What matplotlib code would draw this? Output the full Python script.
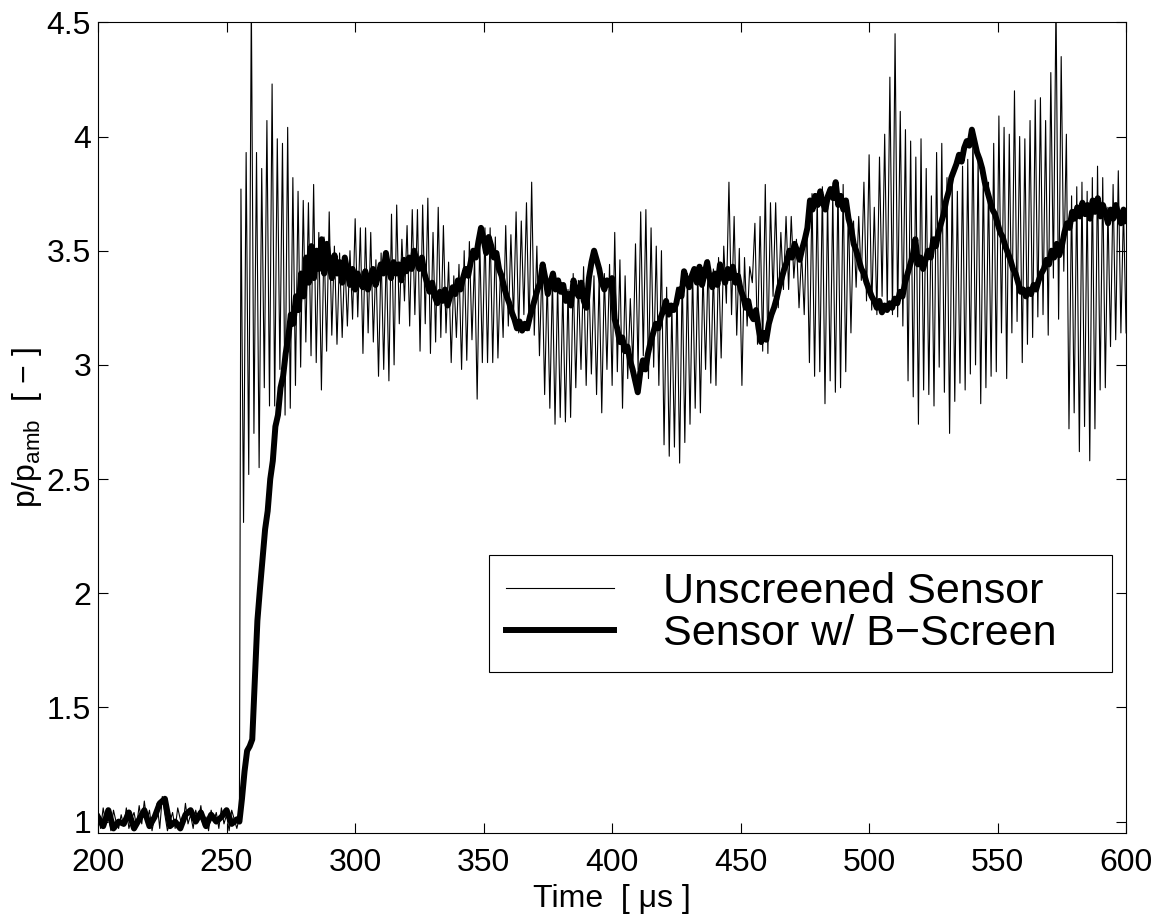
import numpy as np
import matplotlib
matplotlib.use('Agg')
import matplotlib.pyplot as plt

plt.rcParams['font.family'] = ['Liberation Sans', 'DejaVu Sans']
plt.rcParams['mathtext.fontset'] = 'custom'
plt.rcParams['mathtext.rm'] = 'Liberation Sans'
plt.rcParams['mathtext.it'] = 'Liberation Sans:italic'

# unscreened sensor, 1 us samples before the shock arrives
bare_pre = [1.04, 0.97, 1.06, 0.99, 1.02, 0.96, 1.05, 1.00, 0.97, 1.03,
            0.98, 1.06, 0.97, 1.01, 1.04, 0.98, 1.07, 0.99, 1.09, 1.00,
            1.05, 0.96, 1.02, 1.08, 0.97, 1.11, 1.03, 0.96, 1.00, 1.04,
            0.97, 1.06, 1.01, 0.98, 1.08, 0.99, 1.03, 0.97, 1.05, 1.00,
            1.07, 0.98, 1.02, 0.96, 1.05, 1.00, 1.04, 0.97, 1.06, 0.99,
            1.03, 0.96, 1.05, 1.01, 0.97, 1.02]

# after the shock the signal rings: alternating highs and lows, read per stretch
peaks_b = [3.77, 3.93, 4.60, 3.93, 3.86, 4.07, 4.23, 3.99, 3.97, 4.04,
           3.82, 3.76, 3.72, 3.71, 3.79, 3.58, 3.56, 3.67, 3.52, 3.49,
           3.47, 3.50, 3.64, 3.60, 3.60, 3.58, 3.46, 3.49, 3.50, 3.66,
           3.70, 3.55, 3.61]
lows_b = [2.31, 2.52, 2.70, 2.55, 2.90, 2.82, 2.82, 2.98, 2.78, 2.81,
          2.91, 2.99, 3.10, 3.04, 3.01, 2.89, 3.06, 3.13, 3.09, 3.12,
          3.17, 3.20, 3.21, 3.05, 3.14, 3.10, 2.95, 2.98, 2.93, 3.00,
          3.18, 3.28]
peaks_c = [3.68, 3.68, 3.70, 3.73, 3.58, 3.69, 3.61, 3.45, 3.39, 3.44,
           3.50, 3.54, 3.47, 3.55, 3.60, 3.60, 3.56, 3.43, 3.61, 3.57,
           3.67, 3.63, 3.71, 3.80, 3.52, 3.44, 3.38, 3.38, 3.36, 3.34,
           3.33, 3.40, 3.37]
lows_c = [3.17, 3.22, 3.06, 3.18, 3.05, 3.10, 3.12, 3.14, 3.01, 3.12,
          2.98, 3.02, 3.11, 2.85, 3.01, 3.01, 3.01, 3.03, 3.12, 3.17,
          3.20, 3.14, 3.22, 3.15, 3.13, 3.04, 2.87, 2.81, 2.74, 2.77,
          2.75, 2.77, 2.90]
peaks_d = [3.43, 3.40, 3.39, 3.39, 3.40, 3.44, 3.58, 3.46, 3.39, 3.29,
           3.53, 3.67, 3.68, 3.60, 3.52, 3.50, 3.34, 3.26, 3.34, 3.40,
           3.40, 3.41, 3.43, 3.42, 3.46, 3.42, 3.47, 3.52, 3.80, 3.65,
           3.51, 3.47, 3.43]
lows_d = [2.98, 2.91, 2.96, 2.87, 2.79, 2.98, 2.91, 2.97, 2.81, 2.94,
          2.99, 2.98, 3.04, 2.94, 2.99, 2.91, 2.65, 2.60, 2.64, 2.57,
          2.66, 2.74, 2.81, 2.79, 2.98, 2.92, 2.91, 3.03, 3.27, 3.22,
          3.13, 2.91, 3.17]
peaks_e = [3.62, 3.65, 3.79, 3.71, 3.71, 3.58, 3.65, 3.65, 3.55, 3.49,
           3.63, 3.75, 3.75, 3.78, 3.73, 3.75, 3.79, 3.79, 3.70, 3.63,
           3.65, 3.80, 3.92, 3.69, 3.91, 4.01, 4.26, 4.45, 4.11, 4.03,
           3.98, 3.91]
lows_e = [3.36, 3.09, 3.06, 3.05, 3.30, 3.25, 3.33, 3.33, 3.38, 3.25,
          3.22, 3.01, 2.95, 2.97, 2.83, 2.93, 2.88, 2.90, 2.97, 3.14,
          3.34, 3.37, 3.28, 3.24, 3.22, 3.30, 3.25, 3.22, 3.21, 3.17,
          2.93, 2.86]
peaks_f = [3.99, 3.86, 3.74, 3.93, 3.97, 3.82, 3.81, 3.76, 3.87, 3.90,
           4.03, 3.91, 3.84, 3.80, 3.97, 4.09, 4.04, 4.01, 4.20, 4.00,
           3.99, 4.07, 4.16, 4.17, 4.07, 4.28, 4.60, 4.35, 4.01, 3.74,
           3.78, 3.80, 3.76, 3.82, 3.87, 3.82, 3.69, 3.79, 3.85, 3.69]
lows_f = [2.74, 2.89, 2.87, 2.82, 2.99, 2.88, 2.70, 2.84, 2.92, 2.89,
          2.96, 3.00, 2.83, 2.90, 2.95, 2.97, 3.14, 2.94, 3.14, 3.19,
          3.01, 3.09, 3.12, 3.21, 3.22, 3.13, 3.38, 3.20, 3.41, 2.72,
          2.79, 2.62, 2.73, 2.58, 2.72, 2.89, 2.90, 3.08, 3.11, 3.14,
          3.14]

# sensor with B-screen: 2 us samples before the shock, 1 us samples from 255 us on
screen_pre = [1.02, 0.98, 1.05, 0.97, 1.00, 0.99, 1.04, 0.97, 1.01, 1.05,
              0.98, 1.02, 1.08, 1.10, 0.98, 1.00, 0.97, 1.03, 1.05, 1.00,
              1.04, 0.98, 1.03, 1.00, 1.02, 1.05, 0.99, 1.01]
screen_post = [1.00, 1.10, 1.22, 1.31, 1.33, 1.36, 1.62, 1.88, 2.02, 2.15,
               2.28, 2.36, 2.50, 2.58, 2.73, 2.78, 2.90, 2.95, 3.05, 3.12,
               3.22, 3.18, 3.30, 3.24, 3.40, 3.30, 3.47, 3.36, 3.52, 3.38,
               3.50, 3.42, 3.55, 3.40, 3.53, 3.44, 3.38, 3.48, 3.40, 3.45,
               3.36, 3.47, 3.41, 3.35, 3.42, 3.33, 3.40, 3.36, 3.34, 3.41,
               3.33, 3.38, 3.42, 3.35, 3.39, 3.44, 3.40, 3.49, 3.42, 3.38,
               3.45, 3.40, 3.44, 3.37, 3.46, 3.41, 3.47, 3.42, 3.50, 3.45,
               3.42, 3.47, 3.40, 3.36, 3.32, 3.36, 3.30, 3.27, 3.32, 3.28,
               3.33, 3.26, 3.30, 3.34, 3.31, 3.37, 3.33, 3.38, 3.42, 3.39,
               3.45, 3.50, 3.47, 3.54, 3.60, 3.55, 3.49, 3.56, 3.52, 3.47,
               3.49, 3.42, 3.39, 3.34, 3.30, 3.27, 3.23, 3.20, 3.16, 3.19,
               3.15, 3.18, 3.16, 3.21, 3.25, 3.29, 3.33, 3.36, 3.44, 3.38,
               3.31, 3.36, 3.40, 3.33, 3.37, 3.32, 3.35, 3.28, 3.31, 3.26,
               3.37, 3.32, 3.30, 3.36, 3.28, 3.25, 3.38, 3.45, 3.50, 3.46,
               3.42, 3.36, 3.33, 3.37, 3.35, 3.38, 3.20, 3.16, 3.10, 3.12,
               3.06, 3.08, 3.02, 2.98, 2.93, 2.88, 2.97, 3.02, 2.98, 3.05,
               3.10, 3.14, 3.18, 3.16, 3.21, 3.24, 3.28, 3.22, 3.26, 3.24,
               3.27, 3.33, 3.30, 3.41, 3.37, 3.34, 3.39, 3.42, 3.36, 3.43,
               3.35, 3.40, 3.45, 3.38, 3.34, 3.40, 3.35, 3.44, 3.39, 3.36,
               3.42, 3.38, 3.43, 3.36, 3.39, 3.33, 3.30, 3.25, 3.28, 3.22,
               3.20, 3.24, 3.16, 3.10, 3.14, 3.11, 3.18, 3.22, 3.25, 3.29,
               3.34, 3.38, 3.42, 3.45, 3.50, 3.47, 3.53, 3.50, 3.46, 3.51,
               3.55, 3.60, 3.72, 3.68, 3.74, 3.70, 3.76, 3.71, 3.68, 3.74,
               3.77, 3.73, 3.80, 3.70, 3.74, 3.68, 3.72, 3.64, 3.60, 3.53,
               3.50, 3.46, 3.42, 3.40, 3.36, 3.33, 3.30, 3.28, 3.25, 3.28,
               3.23, 3.26, 3.24, 3.27, 3.25, 3.29, 3.27, 3.32, 3.30, 3.36,
               3.40, 3.44, 3.48, 3.55, 3.44, 3.47, 3.42, 3.46, 3.50, 3.47,
               3.55, 3.52, 3.58, 3.62, 3.66, 3.72, 3.76, 3.82, 3.85, 3.88,
               3.92, 3.89, 3.95, 3.98, 3.96, 4.03, 3.98, 3.93, 3.90, 3.86,
               3.80, 3.76, 3.72, 3.68, 3.66, 3.62, 3.58, 3.56, 3.52, 3.49,
               3.46, 3.42, 3.40, 3.36, 3.32, 3.33, 3.30, 3.33, 3.31, 3.35,
               3.33, 3.37, 3.40, 3.42, 3.46, 3.44, 3.50, 3.47, 3.53, 3.48,
               3.52, 3.58, 3.62, 3.60, 3.67, 3.64, 3.69, 3.65, 3.71, 3.66,
               3.70, 3.64, 3.72, 3.67, 3.73, 3.65, 3.70, 3.66, 3.62, 3.68,
               3.64, 3.70, 3.66, 3.62, 3.68, 3.63]

yticks = [1, 1.5, 2, 2.5, 3, 3.5, 4, 4.5]
xticks = [200, 250, 300, 350, 400, 450, 500, 550, 600]


def interleave(a, b):
    out = []
    for i in range(len(a)):
        out.append(a[i])
        if i < len(b):
            out.append(b[i])
    return out


bare_post = (interleave(peaks_b, lows_b) + interleave(lows_c, peaks_c)
             + interleave(lows_d, peaks_d) + interleave(lows_e, peaks_e)
             + interleave(lows_f, peaks_f))
bare_t = np.concatenate([np.arange(200, 256), np.linspace(255.6, 600, len(bare_post))])
bare_p = np.array(bare_pre + bare_post)

scr_t = np.concatenate([np.arange(200, 256, 2), np.arange(255, 255 + len(screen_post))])
scr_p = np.array(screen_pre + screen_post)

fig = plt.figure(figsize=(11.59, 9.15), dpi=100)
ax = fig.add_axes([0.0846, 0.0896, 0.887, 0.886])

ax.plot(bare_t, bare_p, color='black', lw=0.8, label='Unscreened Sensor')
ax.plot(scr_t, scr_p, color='black', lw=4.3, label='Sensor w/ B\u2212Screen')

ax.set_xlim(200, 600)
ax.set_ylim(0.95, 4.5)
ax.set_xticks(xticks)
ax.set_yticks(yticks)
ax.set_yticklabels(['%g' % v for v in yticks])
ax.tick_params(direction='in', length=7, width=0.8, top=True, right=True, labelsize=23)
ax.tick_params(axis='x', pad=11)
ax.tick_params(axis='y', pad=5)
for s in ax.spines.values():
    s.set_linewidth(0.8)

ax.set_xlabel('Time  [ \u03bcs ]', fontsize=23, labelpad=4)
ax.set_ylabel('p/p$_{\\mathrm{amb}}$  [ \u2212 ]', fontsize=23, labelpad=2)

leg = ax.legend(loc='upper left', bbox_to_anchor=(0.380, 0.343, 0.606, 0), mode='expand',
                borderaxespad=0, fontsize=31, handlelength=2.5, handletextpad=1.15,
                labelspacing=0.05, fancybox=False, framealpha=1, edgecolor='black',
                borderpad=0.4)
leg.get_frame().set_linewidth(0.8)

fig.savefig('out.png', dpi=100)
